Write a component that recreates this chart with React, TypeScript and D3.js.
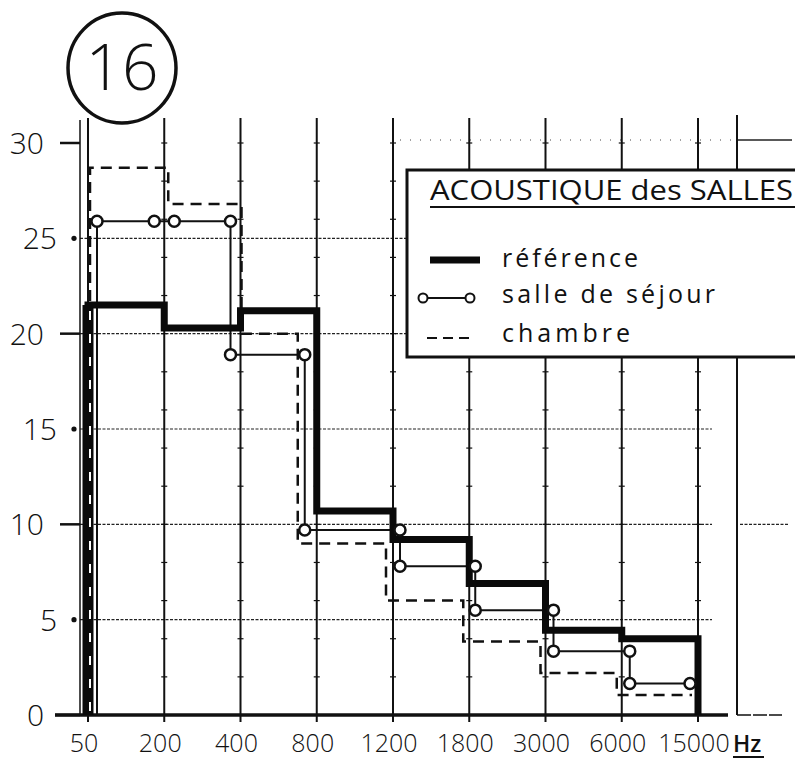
import React from "react";
import * as d3 from "d3";

const frequencies = ["50", "200", "400", "800", "1200", "1800", "3000", "6000", "15000"];
const yTickValues = [0, 5, 10, 15, 20, 25, 30];
const reference = [21.5, 20.3, 21.2, 10.7, 9.2, 6.9, 4.45, 4.0];
const salleDeSejour = [25.9, 25.9, 18.9, 9.7, 7.8, 5.5, 3.35, 1.65];
const chambre = [28.7, 26.8, 20.0, 9.0, 6.0, 3.85, 2.2, 1.05];
const seriesNames = ["référence", "salle de séjour", "chambre"];
const legendTitle = "ACOUSTIQUE des SALLES";
const badge = "16";
const unit = "Hz";

const FONT = '"Open Sans", "Noto Sans", "DejaVu Sans", sans-serif';

export default function App() {
  const W = 795;
  const H = 763;
  const x = d3.scalePoint<string>().domain(frequencies).range([88, 698]);
  const y = d3.scaleLinear().domain([0, 30]).range([715, 143]);
  const bx = (i: number) => x(frequencies[i]) as number;
  const line = d3.line();

  // reference: steps exactly at band boundaries
  const refPts: [number, number][] = [[bx(0), y(0)]];
  reference.forEach((v, i) => {
    refPts.push([bx(i), y(v)]);
    refPts.push([bx(i + 1), y(v)]);
  });
  refPts.push([bx(frequencies.length - 1), y(0)]);

  // salle de séjour: pen jogs next to each boundary
  const sejourJog = [9, 0, -10, -12, 7, 6, 8, 8, -8];
  const sj = (k: number) => bx(k) + sejourJog[k];
  const sejPts: [number, number][] = [[sj(0), y(0)]];
  salleDeSejour.forEach((v, i) => {
    sejPts.push([sj(i), y(v)]);
    sejPts.push([sj(i + 1), y(v)]);
  });
  const sejCircles: [number, number][] = [];
  salleDeSejour.forEach((v, i) => {
    const sameBefore = i > 0 && salleDeSejour[i - 1] === v;
    const sameAfter = i < salleDeSejour.length - 1 && salleDeSejour[i + 1] === v;
    sejCircles.push([sameBefore ? bx(i) + 10 : sj(i), y(v)]);
    sejCircles.push([sameAfter ? bx(i + 1) - 10 : sj(i + 1), y(v)]);
  });

  // chambre
  const chJog = [2, 4, 1, -19, -7, -6, -5, -5, -6];
  const cj = (k: number) => bx(k) + chJog[k];
  const chPts: [number, number][] = [[cj(0), y(0)]];
  chambre.forEach((v, i) => {
    chPts.push([cj(i), y(v)]);
    chPts.push([cj(i + 1), y(v)]);
  });

  const gridY = yTickValues.filter((v) => v > 0 && v < 30);
  const minorY = d3.range(2, 31, 2);

  return (
    <svg
      width={W}
      height={H}
      viewBox={`0 0 ${W} ${H}`}
      style={{ position: "absolute", left: 0, top: 0, background: "#fff" }}
      fontFamily={FONT}
    >
      <rect x={0} y={0} width={W} height={H} fill="#fff" />

      {/* badge */}
      <ellipse cx={122} cy={68} rx={54} ry={55} fill="none" stroke="#111" strokeWidth={3.5} />
      <text x={122} y={90} textAnchor="middle" fontSize={64} fontWeight={300} fill="#111">
        {badge}
      </text>

      {/* horizontal dotted grid */}
      {gridY.map((v) => (
        <line key={"g" + v} x1={80} x2={712} y1={y(v)} y2={y(v)} stroke="#222" strokeWidth={1.2} strokeDasharray="3,1.5" />
      ))}
      <line x1={400} x2={737} y1={y(30) - 3} y2={y(30) - 3} stroke="#444" strokeWidth={1} strokeDasharray="1,9" />
      <line x1={737} x2={792} y1={y(30) - 3} y2={y(30) - 3} stroke="#222" strokeWidth={1.5} />
      <line x1={740} x2={788} y1={y(10)} y2={y(10)} stroke="#222" strokeWidth={1.2} strokeDasharray="3,1.5" />

      {/* vertical grid lines */}
      {frequencies.map((f, i) => (
        <line key={"v" + f} x1={bx(i)} x2={bx(i)} y1={118} y2={722} stroke="#111" strokeWidth={2} />
      ))}
      {frequencies.slice(1).map((f, i) =>
        minorY.map((v) => (
          <line key={"m" + f + v} x1={bx(i + 1) - 3} x2={bx(i + 1) + 3} y1={y(v)} y2={y(v)} stroke="#111" strokeWidth={1.2} />
        ))
      )}
      <line x1={80} x2={80} y1={120} y2={715} stroke="#111" strokeWidth={1.5} />
      <line x1={737} x2={737} y1={115} y2={715} stroke="#111" strokeWidth={2} />

      {/* x axis */}
      <line x1={55} x2={728} y1={y(0)} y2={y(0)} stroke="#111" strokeWidth={3.5} />
      <line x1={737} x2={782} y1={y(0)} y2={y(0)} stroke="#111" strokeWidth={1.5} strokeDasharray="14,2" />

      {/* y ticks + labels */}
      {yTickValues.map((v) => {
        const major = v % 10 === 0;
        return (
          <g key={"yt" + v}>
            {major ? (
              <line x1={v === 0 ? 55 : 60} x2={80} y1={y(v)} y2={y(v)} stroke="#111" strokeWidth={2.5} />
            ) : (
              <circle cx={74} cy={y(v)} r={2.6} fill="#111" />
            )}
            <text x={major ? 44 : 57} y={y(v) + 11} textAnchor="end" fontSize={30} fontWeight={300} fill="#111">
              {v}
            </text>
          </g>
        );
      })}

      {/* x labels */}
      {frequencies.map((f, i) => (
        <text key={"xl" + f} x={bx(i) - 4} y={752} textAnchor="middle" fontSize={25} fontWeight={300} fill="#111">
          {f}
        </text>
      ))}
      <text x={733} y={752} fontSize={23} fontWeight={600} fill="#111">
        {unit}
      </text>
      <line x1={733} x2={764} y1={757} y2={757} stroke="#111" strokeWidth={2} />

      {/* chambre */}
      <path d={line(chPts) as string} fill="none" stroke="#111" strokeWidth={2.5} strokeDasharray="11,7" />
      {/* salle de séjour */}
      <path d={line(sejPts) as string} fill="none" stroke="#111" strokeWidth={2} />
      {/* référence */}
      <path d={line(refPts) as string} fill="none" stroke="#0a0a0a" strokeWidth={7} strokeLinejoin="miter" />
      <line x1={bx(0)} x2={bx(0)} y1={y(0)} y2={y(reference[0])} stroke="#0a0a0a" strokeWidth={11} />
      <line x1={bx(0) + 2} x2={bx(0) + 2} y1={y(0) - 4} y2={y(reference[0]) + 6} stroke="#fff" strokeWidth={2} strokeDasharray="9,14" />
      {sejCircles.map(([cx, cy], k) => (
        <circle key={"c" + k} cx={cx} cy={cy} r={5.5} fill="#fff" stroke="#111" strokeWidth={2.5} />
      ))}

      {/* legend */}
      <rect x={407} y={170} width={400} height={187} fill="#fff" stroke="#111" strokeWidth={3} />
      <text x={430} y={200} fontSize={28} fontWeight={400} fill="#111" textLength={363} lengthAdjust="spacingAndGlyphs">
        {legendTitle}
      </text>
      <line x1={430} x2={795} y1={207} y2={207} stroke="#111" strokeWidth={2} />

      <line x1={430} x2={480} y1={260} y2={260} stroke="#0a0a0a" strokeWidth={7} />
      <text x={502} y={267} fontSize={25} fontWeight={400} fill="#111" textLength={136} lengthAdjust="spacing">
        {seriesNames[0]}
      </text>

      <line x1={423} x2={470} y1={298} y2={298} stroke="#111" strokeWidth={2} />
      <circle cx={423} cy={298} r={4.5} fill="#fff" stroke="#111" strokeWidth={2} />
      <circle cx={470} cy={298} r={4.5} fill="#fff" stroke="#111" strokeWidth={2} />
      <text x={502} y={303} fontSize={25} fontWeight={400} fill="#111" textLength={213} lengthAdjust="spacing">
        {seriesNames[1]}
      </text>

      <line x1={427} x2={473} y1={338} y2={338} stroke="#111" strokeWidth={2} strokeDasharray="10,6" />
      <text x={502} y={342} fontSize={25} fontWeight={400} fill="#111" textLength={128} lengthAdjust="spacing">
        {seriesNames[2]}
      </text>
    </svg>
  );
}
